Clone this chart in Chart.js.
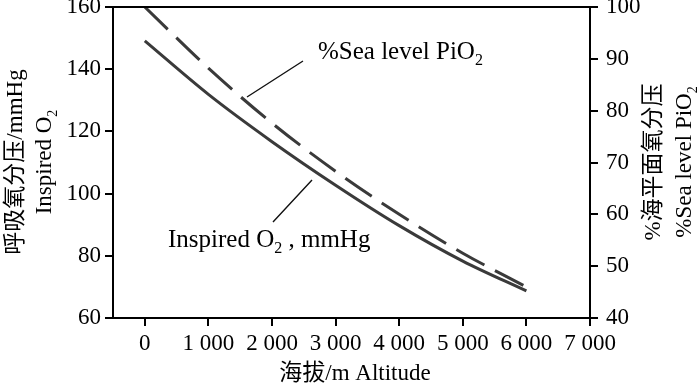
<!DOCTYPE html>
<html>
<head>
<meta charset="utf-8">
<script src="https://cdn.jsdelivr.net/npm/chart.js@4/dist/chart.umd.min.js"></script>
<style>
  html, body { margin: 0; padding: 0; background: #ffffff; }
  #wrap { width: 700px; height: 383px; }
</style>
</head>
<body>
<div id="wrap"><canvas id="c" width="700" height="383"></canvas></div>
<script>
// ---- Data ----
const altitudes = [0, 1000, 2000, 3000, 4000, 5000, 6000];
const inspiredO2 = [149.1, 131.9, 116.7, 102.7, 89.7, 78.3, 68.7];   // mmHg (left axis)
const pctSeaLevel = [100, 88.2, 77.6, 68.3, 60.0, 52.5, 46.0];      // % (right axis)
const xTicks = [0, 1000, 2000, 3000, 4000, 5000, 6000, 7000];
const leftTicks = [60, 80, 100, 120, 140, 160];
const rightTicks = [40, 50, 60, 70, 80, 90, 100];

const SERIF = '"Liberation Serif", "Times New Roman", "Noto Sans CJK SC", serif';
const MIX = '"Liberation Serif", "Noto Sans CJK SC", serif';
const LINE_COLOR = '#3a3a3a';

function fmtThousands(v) {
  return String(v).replace(/\B(?=(\d{3})+(?!\d))/g, ' ');
}

// draw text made of segments: [{t, sub}] centered at (x,y) in current transform
function drawSegs(ctx, segs, x, y, size, align) {
  const subSize = Math.round(size * 0.62);
  let total = 0;
  const widths = segs.map(s => {
    ctx.font = (s.sub ? subSize : size) + 'px ' + MIX;
    const w = ctx.measureText(s.t).width;
    total += w;
    return w;
  });
  let cx = align === 'left' ? x : x - total / 2;
  ctx.textBaseline = 'alphabetic';
  ctx.textAlign = 'left';
  segs.forEach((s, i) => {
    ctx.font = (s.sub ? subSize : size) + 'px ' + MIX;
    ctx.fillText(s.t, cx, y + (s.sub ? size * 0.25 : 0));
    cx += widths[i];
  });
}

const decorPlugin = {
  id: 'decor',
  afterDraw(chart) {
    const ctx = chart.ctx;
    const a = chart.chartArea;
    ctx.save();
    // top frame line
    ctx.strokeStyle = '#000';
    ctx.lineWidth = 2;
    ctx.beginPath();
    ctx.moveTo(a.left - 1, a.top);
    ctx.lineTo(a.right + 1, a.top);
    ctx.stroke();

    ctx.fillStyle = '#000';
    // x axis title
    drawSegs(ctx, [{t: '海拔/m Altitude'}], 355, 380, 23);

    // left axis title (two lines, rotated)
    ctx.save();
    ctx.translate(0, 162);
    ctx.rotate(-Math.PI / 2);
    drawSegs(ctx, [{t: '呼吸氧分压/mmHg'}], 0, 22, 23);
    drawSegs(ctx, [{t: 'Inspired O'}, {t: '2', sub: true}], 0, 51, 23);
    ctx.restore();

    // right axis title (two lines, rotated)
    ctx.save();
    ctx.translate(0, 162);
    ctx.rotate(-Math.PI / 2);
    drawSegs(ctx, [{t: '%海平面氧分压'}], 0, 660, 23);
    drawSegs(ctx, [{t: '%Sea level PiO'}, {t: '2', sub: true}], 0, 691, 23);
    ctx.restore();

    // annotations
    drawSegs(ctx, [{t: '%Sea level PiO'}, {t: '2', sub: true}], 318, 59, 25, 'left');
    drawSegs(ctx, [{t: 'Inspired O'}, {t: '2', sub: true}, {t: ' , mmHg'}], 168, 247, 25, 'left');

    // leader lines
    ctx.strokeStyle = '#111';
    ctx.lineWidth = 1.4;
    ctx.beginPath();
    ctx.moveTo(303, 61); ctx.lineTo(247, 97);
    ctx.moveTo(312, 180); ctx.lineTo(273, 222);
    ctx.stroke();
    ctx.restore();
  }
};

function axisCommon(extra) {
  return Object.assign({
    grid: { drawOnChartArea: false, drawTicks: true, tickLength: 8, color: '#000', lineWidth: 2 },
    border: { display: true, color: '#000', width: 2 },
  }, extra);
}

const chart = new Chart(document.getElementById('c'), {
  type: 'line',
  data: {
    datasets: [
      {
        label: 'Inspired O2, mmHg',
        data: altitudes.map((x, i) => ({ x, y: inspiredO2[i] })),
        yAxisID: 'y',
        borderColor: LINE_COLOR,
        borderWidth: 3,
        pointRadius: 0,
        cubicInterpolationMode: 'monotone',
        fill: false
      },
      {
        label: '%Sea level PiO2',
        data: altitudes.map((x, i) => ({ x, y: pctSeaLevel[i] })),
        yAxisID: 'y2',
        borderColor: LINE_COLOR,
        borderWidth: 3,
        borderDash: [32, 12],
        pointRadius: 0,
        cubicInterpolationMode: 'monotone',
        fill: false
      }
    ]
  },
  options: {
    responsive: false,
    animation: false,
    devicePixelRatio: 1,
    layout: { padding: { top: 7, left: 0, right: 0, bottom: 0 } },
    plugins: { legend: { display: false }, tooltip: { enabled: false }, title: { display: false } },
    scales: {
      x: axisCommon({
        type: 'linear',
        position: 'bottom',
        min: -500,
        max: 7000,
        afterBuildTicks: s => { s.ticks = xTicks.map(v => ({ value: v })); },
        afterFit: s => { s.height = 65; s.paddingLeft = 0; s.paddingRight = 0; },
        ticks: {
          font: { family: SERIF, size: 23 },
          color: '#000',
          padding: 4,
          maxRotation: 0,
          autoSkip: false,
          callback: v => fmtThousands(v)
        }
      }),
      y: axisCommon({
        type: 'linear',
        position: 'left',
        min: 60,
        max: 160,
        afterBuildTicks: s => { s.ticks = leftTicks.map(v => ({ value: v })); },
        afterFit: s => { s.width = 113; s.paddingTop = 0; s.paddingBottom = 0; },
        ticks: { font: { family: SERIF, size: 23 }, color: '#000', padding: 4 }
      }),
      y2: axisCommon({
        type: 'linear',
        position: 'right',
        min: 40,
        max: 100,
        afterBuildTicks: s => { s.ticks = rightTicks.map(v => ({ value: v })); },
        afterFit: s => { s.width = 110; s.paddingTop = 0; s.paddingBottom = 0; },
        ticks: { font: { family: SERIF, size: 23 }, color: '#000', padding: 8 }
      })
    }
  },
  plugins: [decorPlugin]
});
</script>
</body>
</html>
